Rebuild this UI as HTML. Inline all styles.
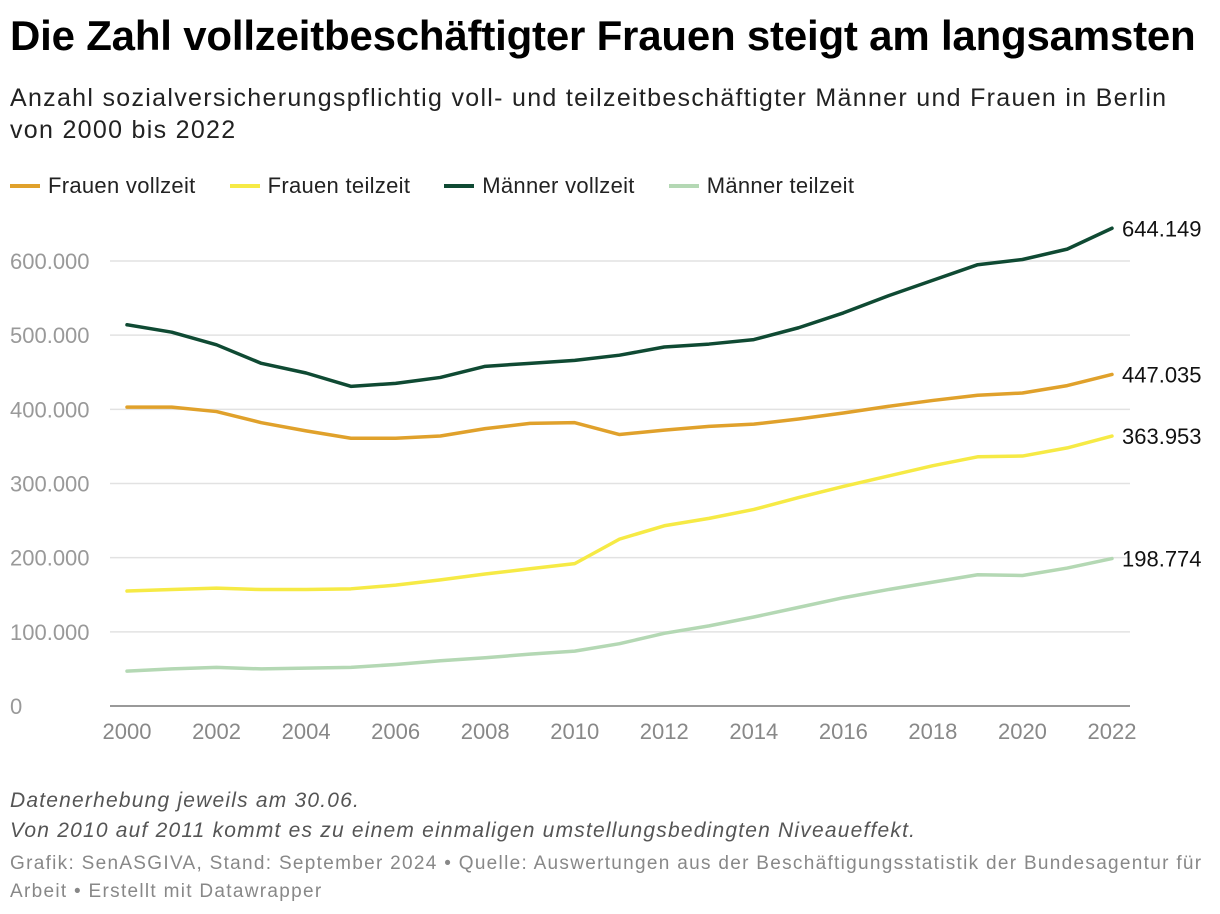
<!DOCTYPE html>
<html><head><meta charset="utf-8"><style>
body{margin:0;background:#fff;width:1220px;height:914px;overflow:hidden;font-family:"Liberation Sans",sans-serif;}
h1{position:absolute;left:10px;top:12px;margin:0;font-size:42px;font-weight:bold;color:#000;letter-spacing:-0.2px;white-space:nowrap}
.sub{position:absolute;left:10px;top:82px;font-size:25px;line-height:32px;color:#222;width:1200px;letter-spacing:1.3px;white-space:nowrap}
.legend{position:absolute;left:10px;top:173px;font-size:22px;color:#222;display:flex;gap:0;letter-spacing:0.3px}
.le{display:flex;align-items:center;margin-right:34px}
.sw{width:30px;height:4px;margin-right:8px}
.notes{position:absolute;left:10px;top:786px;font-size:21px;line-height:30px;color:#555;font-style:italic;letter-spacing:1.2px;white-space:nowrap}
.src{position:absolute;left:10px;top:850px;font-size:19px;line-height:28px;color:#888;width:1200px;letter-spacing:1.3px;white-space:nowrap}
</style></head><body>
<h1>Die Zahl vollzeitbeschäftigter Frauen steigt am langsamsten</h1>
<div class="sub">Anzahl sozialversicherungspflichtig voll- und teilzeitbeschäftigter Männer und Frauen in Berlin<br>von 2000 bis 2022</div>
<div class="legend">
<div class="le"><span class="sw" style="background:#e0a12b"></span>Frauen vollzeit</div>
<div class="le"><span class="sw" style="background:#f6ea45"></span>Frauen teilzeit</div>
<div class="le"><span class="sw" style="background:#0f4a33"></span>Männer vollzeit</div>
<div class="le"><span class="sw" style="background:#b4d8b4"></span>Männer teilzeit</div>
</div>
<svg id="chart" width="1220" height="914" style="position:absolute;left:0;top:0"></svg>
<div class="notes">Datenerhebung jeweils am 30.06.<br>Von 2010 auf 2011 kommt es zu einem einmaligen umstellungsbedingten Niveaueffekt.</div>
<div class="src">Grafik: SenASGIVA, Stand: September 2024 • Quelle: Auswertungen aus der Beschäftigungsstatistik der Bundesagentur für<br>Arbeit • Erstellt mit Datawrapper</div>
<script>
const years=[2000,2001,2002,2003,2004,2005,2006,2007,2008,2009,2010,2011,2012,2013,2014,2015,2016,2017,2018,2019,2020,2021,2022];
const maennerVollzeit=[514,504,487,462,449,431,435,443,458,462,466,473,484,488,494,510,530,553,574,595,602,616,644.149];
const frauenVollzeit=[403,403,397,382,371,361,361,364,374,381,382,366,372,377,380,387,395,404,412,419,422,432,447.035];
const frauenTeilzeit=[155,157,159,157,157,158,163,170,178,185,192,225,243,253,265,281,296,310,324,336,337,348,363.953];
const maennerTeilzeit=[47,50,52,50,51,52,56,61,65,70,74,84,98,108,120,133,146,157,167,177,176,186,198.774];
const yTicks=[0,100,200,300,400,500,600];
const yTickLabels=["0","100.000","200.000","300.000","400.000","500.000","600.000"];
const xTicks=[2000,2002,2004,2006,2008,2010,2012,2014,2016,2018,2020,2022];
const NS="http://www.w3.org/2000/svg";
const svg=document.getElementById('chart');
const x=v=>127+(v-2000)*(1112-127)/22;
const y=v=>706-v*(706-261)/600;
function mk(t,a){const e=document.createElementNS(NS,t);for(const k in a)e.setAttribute(k,a[k]);svg.appendChild(e);return e;}
yTicks.forEach((t,i)=>{
 const g=mk('line',{x1:110,x2:1130,y1:y(t),y2:y(t),stroke:t===0?'#333':'#e2e2e2','stroke-width':t===0?1:1.5});
 
 
 const l=mk('text',{x:10,y:y(t)+8,'font-size':22,fill:'#999','font-family':'Liberation Sans'});
 l.textContent=yTickLabels[i];
 
 
});
xTicks.forEach(t=>{
 const l=mk('text',{x:x(t),y:739,'font-size':22,fill:'#888','text-anchor':'middle','font-family':'Liberation Sans'});
 l.textContent=t;
 
 
});
const series=[[maennerTeilzeit,'#b4d8b4','maenner-teilzeit'],[frauenTeilzeit,'#f6ea45','frauen-teilzeit'],[frauenVollzeit,'#e0a12b','frauen-vollzeit'],[maennerVollzeit,'#0f4a33','maenner-vollzeit']];
series.forEach(([d,c,n])=>{
 const p=mk('polyline',{points:d.map((v,i)=>x(years[i])+','+y(v)).join(' '),fill:'none',stroke:c,'stroke-width':3.5,'stroke-linejoin':'round','stroke-linecap':'round'});
 
 
 const last=d[d.length-1];
 const l=mk('text',{x:1122,y:y(last)+8,'font-size':22,fill:'#111','font-family':'Liberation Sans'});
 l.textContent=Math.round(last*1000).toLocaleString('de-DE');
 
 
});
</script>
</body></html>
